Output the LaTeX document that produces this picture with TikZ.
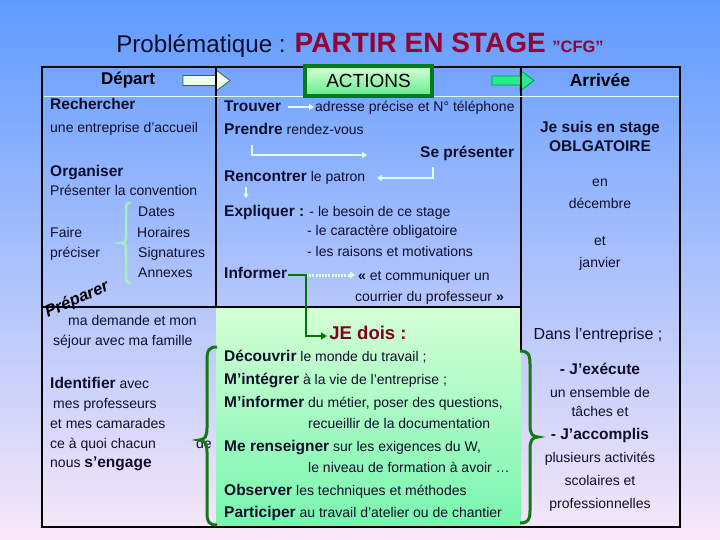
\documentclass[tikz,border=0pt]{standalone}
\usepackage{fontspec}
\setmainfont{Liberation Sans}
\usetikzlibrary{arrows.meta,calc}
\definecolor{bgtop}{RGB}{95,155,255}
\definecolor{bgmid}{RGB}{165,200,245}
\definecolor{bgbot}{RGB}{248,232,248}
\definecolor{navy}{RGB}{15,15,45}
\definecolor{maroonc}{RGB}{150,0,50}
\definecolor{jemaroon}{RGB}{130,0,30}
\definecolor{dgreen}{RGB}{20,120,20}
\definecolor{mintc}{RGB}{220,255,240}
\definecolor{lbrace}{RGB}{165,240,185}
\definecolor{gtop}{RGB}{212,255,212}
\definecolor{gbot}{RGB}{120,245,175}
\definecolor{atop}{RGB}{215,255,215}
\definecolor{abot}{RGB}{100,235,140}
\definecolor{hline}{RGB}{225,255,255}
\definecolor{arrlfill}{RGB}{235,255,235}
\definecolor{arrldraw}{RGB}{70,90,70}
\definecolor{arrrfill}{RGB}{40,235,140}
\definecolor{arrrdraw}{RGB}{0,150,80}
\definecolor{actframe}{RGB}{0,125,20}
\definecolor{infogreen}{RGB}{0,120,0}
\newcommand\bx[1]{{\fontsize{15.5}{18}\selectfont\bfseries #1}}
\tikzset{
  tx/.style={anchor=base west, inner sep=0pt, text=navy, font=\fontsize{14}{16}\selectfont},
  tc/.style={anchor=base, inner sep=0pt, text=navy, font=\fontsize{14}{16}\selectfont},
  grid/.style={line width=2.5pt, black},
  lightarrow/.style={line width=1.8pt, mintc, -{Triangle[length=5pt,width=6pt]}},
  bracecol/.style={line width=3pt, dgreen},
}
\begin{document}
\begin{tikzpicture}[x=1pt,y=-1pt]
\useasboundingbox (0,0) rectangle (720,540);
\shade[top color=bgtop, middle color=bgmid, bottom color=bgbot] (0,0) rectangle (720,540);

% title
\node[anchor=base, inner sep=0pt, text=navy] (title) at (360,53)
  {\fontsize{24.2}{28}\selectfont Problématique : {\color{maroonc}\fontsize{28}{32}\selectfont\bfseries PARTIR EN STAGE} {\color{maroonc}\fontsize{16.5}{19}\selectfont\bfseries ''CFG''}};

% green lower actions cell
\shade[top color=gtop, bottom color=gbot] (216,307) rectangle (521,527);

% header arrows
\filldraw[fill=arrlfill, draw=arrldraw, line width=0.8pt]
  (183,75.5) -- (216,75.5) -- (216,70) -- (230,80.5) -- (216,91) -- (216,85.5) -- (183,85.5) -- cycle;
\filldraw[fill=arrrfill, draw=arrrdraw, line width=0.8pt]
  (492,76) -- (520,76) -- (520,70) -- (534,80.5) -- (520,91) -- (520,85) -- (492,85) -- cycle;

% grid
\draw[grid] (216,67) -- (216,307);
\draw[grid] (521,67) -- (521,350);
\draw[grid] (42,307) -- (521,307);
\draw[grid] (42,67) rectangle (680,527);
\draw[line width=1pt, hline] (43.5,97) -- (678.5,97);

% ACTIONS box
\shade[top color=atop, bottom color=abot] (305,66) rectangle (432,96);
\draw[line width=4pt, actframe] (305,66) rectangle (432,96);
\node[anchor=center, inner sep=0pt, text=black, font=\fontsize{19}{22}\selectfont] (actions) at (368.5,81) {ACTIONS};

% header labels
\node[anchor=center, inner sep=0pt, text=black, font=\fontsize{17}{20}\selectfont\bfseries] (depart) at (128,80) {Départ};
\node[anchor=center, inner sep=0pt, text=black, font=\fontsize{17.5}{20}\selectfont\bfseries] (arrivee) at (600,80) {Arrivée};

% Depart column
\node[tx] (rech) at (50,110) {\bx{Rechercher}};
\node[tx] (entr) at (50,133) {une entreprise d'accueil};
\node[tx] (orga) at (50,177) {\bx{Organiser}};
\node[tx] (conv) at (50,196) {Présenter la convention};
\node[tx] (dates) at (138,217) {Dates};
\node[tx] (hor) at (137,237) {Horaires};
\node[tx] (sig) at (138,257) {Signatures};
\node[tx] (ann) at (138,277) {Annexes};
\node[tx] (faire) at (50,237) {Faire};
\node[tx] (prec) at (50,257) {préciser};
\draw[line width=2.5pt, lbrace]
  (131,203) .. controls (126,203) and (126,205) .. (126,210) -- (126,236)
  .. controls (126,241) and (125,243) .. (121,243)
  .. controls (125,243) and (126,245) .. (126,250) -- (126,276)
  .. controls (126,281) and (126,283) .. (131,283);

\node[anchor=center, inner sep=0pt, rotate=24, text=black, font=\fontsize{16.5}{18}\selectfont\bfseries\itshape] (prep) at (77,300) {Préparer};

\node[tx] (dem) at (68,325) {ma demande et mon};
\node[tx] (sej) at (53,345) {séjour avec ma famille};
\node[tx] (ident) at (50,388) {\bx{Identifier} avec};
\node[tx] (prof) at (53,408) {mes professeurs};
\node[tx] (cam) at (50,428) {et mes camarades};
\node[tx] (quoi) at (50,448) {ce à quoi chacun};
\node[tx] (de) at (196,448) {de};
\node[tx] (nous) at (50,467) {nous \bx{s’engage}};

% ACTIONS upper
\node[tx] (trouv) at (224,112) {\bx{Trouver}};
\node[tx] (adr) at (315,112) {adresse précise et N° téléphone};
\node[tx] (prend) at (224,135) {\bx{Prendre} rendez-vous};
\node[tx] (sepr) at (420,158) {\bx{Se présenter}};
\node[tx] (renc) at (224,182) {\bx{Rencontrer} le patron};
\node[tx] (expl) at (224,217) {\bx{Expliquer :} - le besoin de ce stage};
\node[tx] (carac) at (307,236) {- le caractère obligatoire};
\node[tx] (rais) at (307,256) {- les raisons et motivations};
\node[tx] (info) at (224,278) {\bx{Informer}};
\node[tx] (comm) at (358,280) {\textbf{«} et communiquer un};
\node[tx] (cour) at (355,301) {courrier du professeur \textbf{»}};

\coordinate (a1s) at (288,107);
\coordinate (a1e) at (314,107);
\draw[lightarrow] (a1s) -- (a1e);
\coordinate (a2s) at (252,145);
\coordinate (a2e) at (367,155);
\draw[lightarrow] (a2s) |- (a2e);
\coordinate (a3s) at (433,167);
\coordinate (a3e) at (377,178);
\draw[lightarrow] (a3s) |- (a3e);
\coordinate (a4s) at (246,187);
\coordinate (a4e) at (246,198);
\draw[line width=1.5pt, mintc, -{Triangle[length=4pt,width=5pt]}] (a4s) -- (a4e);
\coordinate (infoend) at (288,275);
\coordinate (knee) at (306,275);
\coordinate (dotend) at (355,275);
\draw[line width=3pt, mintc, dash pattern=on 2pt off 1.2pt, -{Triangle[length=5pt,width=7pt]}] (knee) -- (dotend);
\coordinate (jearrow) at (327,336);
\draw[line width=2.8pt, infogreen, -{Triangle[length=6pt,width=7pt]}] (infoend) -- (knee) |- (jearrow);

% ACTIONS lower
\node[anchor=base, inner sep=0pt, text=jemaroon, font=\fontsize{18.5}{22}\selectfont\bfseries] (jedois) at (368,339) {JE dois :};
\node[tx] (dec) at (224,361) {\bx{Découvrir} le monde du travail ;};
\node[tx] (integ) at (224,384) {\bx{M’intégrer} à la vie de l'entreprise ;};
\node[tx] (minf) at (224,407) {\bx{M’informer} du métier, poser des questions,};
\node[tx] (recu) at (308,428) {recueillir de la documentation};
\node[tx] (rens) at (224,451) {\bx{Me renseigner} sur les exigences du W,};
\node[tx] (niv) at (308,472) {le niveau de formation à avoir …};
\node[tx] (obs) at (224,495) {\bx{Observer} les techniques et méthodes};
\node[tx] (part) at (224,517) {\bx{Participer} au travail d'atelier ou de chantier};

% big braces
\draw[bracecol]
  (217,347) .. controls (209,347) and (207,350) .. (207,360) -- (207,428)
  .. controls (207,436) and (205,440) .. (199,440)
  .. controls (205,440) and (207,444) .. (207,452) -- (207,513)
  .. controls (207,522) and (209,525) .. (217,525);
\draw[bracecol]
  (520,351) .. controls (528,351) and (530,354) .. (530,364) -- (530,425)
  .. controls (530,433) and (532,437) .. (538,437)
  .. controls (532,437) and (530,441) .. (530,449) -- (530,511)
  .. controls (530,520) and (528,523) .. (520,523);

% Arrivee column
\node[tc] (suis) at (600,133) {\bx{Je suis en stage}};
\node[tc] (oblg) at (600,152) {\bx{OBLGATOIRE}};
\node[tc] (en) at (600,187) {en};
\node[tc] (dece) at (600,209) {décembre};
\node[tc] (et) at (600,245) {et};
\node[tc] (janv) at (600,267) {janvier};
\node[tc, font=\fontsize{16}{18}\selectfont] (dans) at (598,339) {Dans l’entreprise ;};
\node[tc] (exec) at (600,374) {\bx{- J’exécute}};
\node[tc] (ens) at (600,397) {un ensemble de};
\node[tc] (tach) at (600,416) {tâches et};
\node[tc] (acc) at (600,439) {\bx{- J’accomplis}};
\node[tc] (plus) at (600,462) {plusieurs activités};
\node[tc] (scol) at (600,485) {scolaires et};
\node[tc] (profn) at (600,508) {professionnelles};
\end{tikzpicture}
\end{document}
